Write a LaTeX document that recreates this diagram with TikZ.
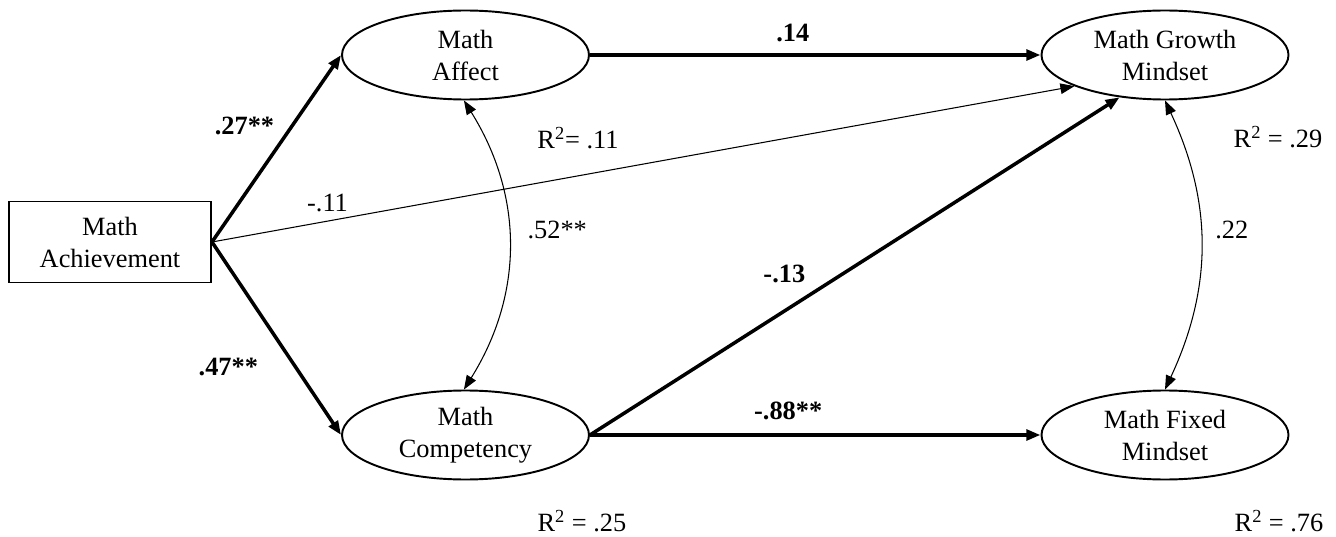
\documentclass[tikz,border=0pt]{standalone}
\usepackage{fontspec}
\setmainfont{Liberation Serif}
\usetikzlibrary{shapes.geometric,arrows.meta}
\tikzstyle{observed} = [rectangle, minimum width=4.04cm, minimum height=1.62cm, align=center, draw=black, line width=1.1pt, inner sep=0pt]
\tikzstyle{latent} = [ellipse, minimum width=4.94cm, minimum height=1.78cm, align=center, draw=black, line width=1.1pt, inner sep=0pt]
\tikzstyle{strong} = [line width=2pt, -{Triangle[length=8pt,width=6pt]}]
\tikzstyle{weak} = [line width=0.6pt, -{Triangle[length=8pt,width=6pt]}]
\tikzstyle{covar} = [line width=0.6pt, {Triangle[length=8pt,width=6pt]}-{Triangle[length=8pt,width=6pt]}]
\tikzstyle{coef} = [inner sep=0pt]
\tikzstyle{bcoef} = [inner sep=0pt, font=\fontsize{15}{18}\selectfont\bfseries]

\begin{document}
\begin{tikzpicture}[node distance=7cm, font=\fontsize{15}{18.2}\selectfont]
      \useasboundingbox (0,0) rectangle (26.72,-10.74);
      \node (ach)[observed] at (2.20,-4.84){Math\\Achievement};
      \node (affect)[latent, right of=ach, xshift=0.11cm, yshift=3.74cm]{Math\\Affect};
      \node (comp)[latent, right of=ach, xshift=0.11cm, yshift=-3.86cm]{Math\\Competency};
      \node (growth)[latent, right of=affect, xshift=6.99cm]{Math Growth\\Mindset};
      \node (fixed)[latent, right of=comp, xshift=6.99cm]{Math Fixed\\Mindset};
      % explained variance
      \node (r2affect)[coef, xshift=2.25cm, yshift=-1.66cm] at (affect){R\textsuperscript{2}= .11};
      \node (r2comp)[coef, xshift=2.33cm, yshift=-1.72cm] at (comp){R\textsuperscript{2} = .25};
      \node (r2growth)[coef, xshift=2.26cm, yshift=-1.64cm] at (growth){R\textsuperscript{2} = .29};
      \node (r2fixed)[coef, xshift=2.28cm, yshift=-1.72cm] at (fixed){R\textsuperscript{2} = .76};
      \draw[strong] (ach.east)--(affect.west) node[bcoef, pos=0.62, xshift=-0.95cm]{.27**};
      \draw[strong] (ach.east)--(comp.west) node[bcoef, pos=0.65, xshift=-1.35cm]{.47**};
      \draw[weak] (ach.east)--(growth.-161) node[coef, pos=0.134, yshift=0.36cm]{-.11};
      \draw[strong] (affect.east)--(growth.west) node[bcoef, pos=0.45, yshift=0.44cm]{.14};
      \draw[strong] (comp.east)--(growth.-137) node[bcoef, pos=0.367, yshift=0.75cm]{-.13};
      \draw[strong] (comp.east)--(fixed.west) node[bcoef, pos=0.44, yshift=0.49cm]{-.88**};
      \draw[covar] (affect.-92) to[bend left=32] node[coef, pos=0.5, xshift=0.97cm, yshift=0.31cm]{.52**} (comp.92);
      \draw[covar] (growth.south) to[bend left=25] node[coef, pos=0.5, xshift=0.62cm, yshift=0.3cm]{.22} (fixed.north);
    \end{tikzpicture}
\end{document}
